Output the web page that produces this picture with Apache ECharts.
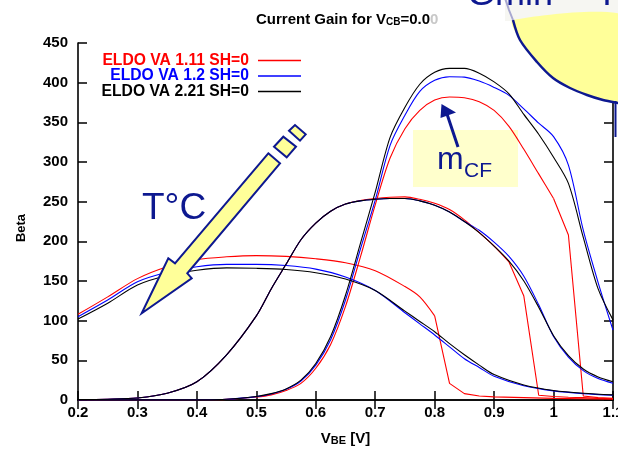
<!DOCTYPE html>
<html>
<head>
<meta charset="utf-8">
<script src="https://cdn.jsdelivr.net/npm/echarts@6/dist/echarts.min.js"></script>
<style>
  html, body { margin: 0; padding: 0; background: #ffffff; overflow: hidden; }
  #chart { width: 618px; height: 452px; }
</style>
</head>
<body>
<div id="chart"></div>
<script>
// Model names and their trace colours
const modelNames = ['ELDO VA 1.11 SH=0', 'ELDO VA 1.2 SH=0', 'ELDO VA 2.21 SH=0'];
const modelColors = ['#ff0000', '#0000ff', '#000000'];

// Curve set 1 (highest temperature): V_BE in volts and Beta per model
const vbeSet1 = [0.2, 0.25, 0.3, 0.35, 0.4, 0.45, 0.5, 0.55, 0.6, 0.65, 0.7, 0.75, 0.775, 0.8, 0.825, 0.85, 0.875, 0.9, 0.95, 1.0, 1.05, 1.1];
const betaSet1Va111 = [108, 130, 153, 168, 177, 180.5, 182, 181, 178, 173, 163, 143, 130, 106, 21, 8, 5, 4, 3, 2, 1.5, 1];
const betaSet1Va12 = [105, 126, 149, 161, 168, 171, 171, 169.5, 165, 155, 138, 110, 96, 82, 67, 52, 41, 30, 18, 11.5, 8, 6];
const betaSet1Va221 = [102, 122, 145, 157, 163.5, 166.5, 166, 164.5, 160.5, 152.5, 138, 112, 99, 86, 71, 57, 44, 32, 19, 12, 8.5, 6.5];

// Curve set 2 (middle temperature)
const vbeSet2 = [0.2, 0.25, 0.3, 0.35, 0.4, 0.45, 0.5, 0.525, 0.55, 0.575, 0.6, 0.625, 0.65, 0.675, 0.7, 0.725, 0.75, 0.775, 0.8, 0.825, 0.85, 0.875, 0.9, 0.925, 0.95, 0.975, 1.0, 1.025, 1.05, 1.075, 1.1];
const betaSet2Va111 = [0.5, 1, 2.5, 8.5, 23, 57, 106, 140, 171, 202, 223, 238, 247, 251.5, 254, 255.5, 256, 253, 248, 240, 227, 211, 194, 174, 131, 6, 4.5, 3.5, 3, 2, 1.5];
const betaSet2Va12 = [0.5, 1, 2.5, 8.5, 23, 57, 106, 140, 171, 202, 223, 238, 247, 251, 253, 254, 254, 251, 245.5, 237, 225, 214, 199, 181, 156, 120, 80, 54, 37, 27, 21];
const betaSet2Va221 = [0.5, 1, 2.5, 8.5, 23, 57, 106, 140, 171, 202, 223, 238, 247, 251, 253, 254, 254, 251, 245.5, 237, 225, 211, 194, 175, 150, 117, 81, 56, 39, 29, 23];

// Curve set 3 (lowest temperature)
const vbeSet3 = [0.2, 0.3, 0.4, 0.45, 0.5, 0.525, 0.55, 0.575, 0.6, 0.625, 0.65, 0.675, 0.7, 0.725, 0.75, 0.775, 0.8, 0.825, 0.85, 0.875, 0.9, 0.925, 0.95, 0.975, 1.0, 1.025, 1.05, 1.075, 1.1];
const betaSet3Va111 = [0, 0.1, 0.3, 0.8, 3.8, 6.5, 12, 21, 40, 70, 118, 180, 246, 305, 342, 365, 378, 382, 381, 376, 365, 345, 316, 285, 254, 208, 5, 3, 2];
const betaSet3Va12 = [0, 0.1, 0.3, 1, 4.3, 7.5, 13.5, 24, 44, 76, 126, 190, 252, 321, 359, 389, 403, 407.5, 407, 402, 394, 384, 367, 349, 332, 296, 214, 148, 88];
const betaSet3Va221 = [0, 0.1, 0.3, 1, 4.5, 8, 14, 25, 46, 80, 132, 197, 262, 331, 369, 398, 413, 418, 418, 412, 401, 386, 360, 335, 306, 273, 205, 140, 101];

// Index in each set where the VA 1.11 trace collapses (drawn with straight segments from there on)
const collapseIndex = [13, 23, 24];

// Axis ranges and steps
const vbeMin = 0.2, vbeMax = 1.1, vbeStep = 0.1;
const betaMin = 0, betaMax = 450, betaStep = 50;

const curveSets = [
  { vbe: vbeSet1, beta: [betaSet1Va111, betaSet1Va12, betaSet1Va221] },
  { vbe: vbeSet2, beta: [betaSet2Va111, betaSet2Va12, betaSet2Va221] },
  { vbe: vbeSet3, beta: [betaSet3Va111, betaSet3Va12, betaSet3Va221] }
];

const FONT = 'Liberation Sans';
const NAVY = '#0d1890';

function lineSeries(name, color, data, smooth, z) {
  return {
    type: 'line',
    name: name,
    xAxisIndex: 0,
    yAxisIndex: 0,
    data: data,
    showSymbol: false,
    symbol: 'none',
    smooth: smooth,
    silent: true,
    lineStyle: { color: color, width: 1.1 },
    itemStyle: { color: color },
    z: z
  };
}

const series = [];
curveSets.forEach(function (set, s) {
  set.beta.forEach(function (values, m) {
    const pts = set.vbe.map(function (v, i) { return [v, values[i]]; });
    if (m === 0) {
      const k = collapseIndex[s];
      series.push(lineSeries(modelNames[m], modelColors[m], pts.slice(0, k + 1), 0.3, 2));
      series.push(lineSeries(modelNames[m], modelColors[m], pts.slice(k), false, 2));
    } else {
      series.push(lineSeries(modelNames[m], modelColors[m], pts, 0.3, 2 + m));
    }
  });
});

const tickStyle = { inside: true, length: 9, lineStyle: { color: '#000', width: 1.5 } };
const lineStyleAxis = { lineStyle: { color: '#000', width: 1.6 } };
const labelStyle = { color: '#000', fontFamily: FONT, fontWeight: 'bold', fontSize: 15 };

const legends = modelNames.map(function (name, m) {
  return {
    data: [{ name: name, icon: 'rect', textStyle: { color: modelColors[m] } }],
    right: 317,
    top: 52.5 + m * 15.5,
    padding: 0,
    orient: 'horizontal',
    align: 'right',
    itemWidth: 43,
    itemHeight: 1.4,
    selectedMode: false,
    textStyle: { fontFamily: FONT, fontWeight: 'bold', fontSize: 15.7, padding: [0, 4, 0, 0] }
  };
});

const option = {
  backgroundColor: '#ffffff',
  animation: false,
  title: {
    text: '{a|Current Gain for V}{b|CB}{a|=0.0}{c|0}',
    left: 251,
    top: 5,
    textStyle: {
      rich: {
        a: { fontFamily: FONT, fontWeight: 'bold', fontSize: 15, color: '#000', verticalAlign: 'bottom', lineHeight: 17 },
        b: { fontFamily: FONT, fontWeight: 'bold', fontSize: 10, color: '#000', verticalAlign: 'bottom', lineHeight: 10 },
        c: { fontFamily: FONT, fontWeight: 'bold', fontSize: 15, color: '#c8c8c8', verticalAlign: 'bottom', lineHeight: 17 }
      }
    }
  },
  legend: legends,
  grid: { left: 78, right: 5, top: 43, bottom: 52, containLabel: false, outerBoundsMode: 'none' },
  xAxis: [
    {
      type: 'value', position: 'bottom', min: vbeMin, max: vbeMax, interval: vbeStep,
      axisLine: lineStyleAxis, axisTick: tickStyle, splitLine: { show: false },
      axisLabel: Object.assign({ margin: 5 }, labelStyle),
      name: '{a|V}{b|BE}{a| [V]}',
      nameLocation: 'middle',
      nameGap: 30,
      nameTextStyle: {
        rich: {
          a: { fontFamily: FONT, fontWeight: 'bold', fontSize: 15, color: '#000', verticalAlign: 'bottom', lineHeight: 16 },
          b: { fontFamily: FONT, fontWeight: 'bold', fontSize: 11, color: '#000', verticalAlign: 'bottom', lineHeight: 8 }
        }
      }
    },
    {
      type: 'value', position: 'top', min: vbeMin, max: vbeMax, interval: vbeStep,
      axisLine: lineStyleAxis, axisTick: tickStyle, splitLine: { show: false },
      axisLabel: { show: false }
    }
  ],
  yAxis: [
    {
      type: 'value', position: 'left', min: betaMin, max: betaMax, interval: betaStep,
      axisLine: lineStyleAxis, axisTick: tickStyle, splitLine: { show: false },
      axisLabel: Object.assign({ margin: 10 }, labelStyle)
    },
    {
      type: 'value', position: 'right', min: betaMin, max: betaMax, interval: betaStep,
      axisLine: lineStyleAxis, axisTick: tickStyle, splitLine: { show: false },
      axisLabel: { show: false }
    }
  ],
  series: series,
  graphic: [
    // y axis title
    { type: 'text', z: 100, silent: true, x: 21, y: 228, rotation: Math.PI / 2,
      style: { text: 'Beta', fill: '#000', font: 'bold 13px "Liberation Sans"', align: 'center', verticalAlign: 'middle' } },
    // pale box behind the m_CF annotation
    { type: 'rect', z: 0, silent: true, shape: { x: 413, y: 130, width: 105, height: 57 }, style: { fill: '#ffffcc' } },
    // m_CF annotation
    { type: 'text', z: 100, silent: true, style: { text: 'm', x: 437, y: 160, fill: NAVY, font: '32px "Liberation Sans"', verticalAlign: 'middle' } },
    { type: 'text', z: 100, silent: true, style: { text: 'CF', x: 464, y: 171, fill: NAVY, font: '21px "Liberation Sans"', verticalAlign: 'middle' } },
    { type: 'line', z: 100, silent: true, shape: { x1: 458, y1: 147, x2: 447, y2: 114 }, style: { stroke: NAVY, lineWidth: 3 } },
    { type: 'polygon', z: 100, silent: true, shape: { points: [[441.5, 104], [440.5, 118], [456, 112.5]] }, style: { fill: NAVY } },
    // temperature arrow
    { type: 'polygon', z: 100, silent: true,
      shape: { points: [[268.3, 153.3], [280, 163.3], [187.3, 273.3], [191.7, 278.3], [141.7, 313.3], [168.3, 258.3], [175, 263.3]] },
      style: { fill: '#ffff99', stroke: NAVY, lineWidth: 2, lineJoin: 'miter' } },
    { type: 'polygon', z: 100, silent: true,
      shape: { points: [[274, 146.7], [283.3, 136.7], [296, 146.7], [286.7, 157.3]] },
      style: { fill: '#ffff99', stroke: NAVY, lineWidth: 2 } },
    { type: 'polygon', z: 100, silent: true,
      shape: { points: [[289, 130.7], [295, 125], [305.7, 134.3], [300, 140.7]] },
      style: { fill: '#ffff99', stroke: NAVY, lineWidth: 2 } },
    { type: 'text', z: 100, silent: true, style: { text: 'T°C', x: 142, y: 209, fill: NAVY, font: '37px "Liberation Sans"', verticalAlign: 'middle' } },
    // overlapping slide bubble at the top right
    { type: 'rect', z: 99, silent: true, shape: { x: 505, y: 0, width: 113, height: 21 }, style: { fill: '#f6f6f2' } },
    { type: 'polygon', z: 100, silent: true,
      shape: { points: [[513, 20], [520, 40], [537, 62], [553, 78], [570, 88], [587, 95], [603, 100], [618, 103], [640, 106], [640, 20]], smooth: 0.3 },
      style: { fill: '#ffff99' } },
    { type: 'polyline', z: 101, silent: true,
      shape: { points: [[513, 20], [520, 40], [537, 62], [553, 78], [570, 88], [587, 95], [603, 100], [618, 103], [630, 105]], smooth: 0.3 },
      style: { stroke: NAVY, lineWidth: 2.5, fill: null } },
    { type: 'polyline', z: 101, silent: true,
      shape: { points: [[505, -2], [509, 10], [513, 20]] },
      style: { stroke: '#a8a8d0', lineWidth: 2, fill: null } },
    { type: 'line', z: 101, silent: true, shape: { x1: 615.5, y1: 101, x2: 615.5, y2: 137 }, style: { stroke: NAVY, lineWidth: 2 } },
    { type: 'text', z: 102, silent: true, style: { text: 'Gmin', x: 467, y: 13, fill: NAVY, font: '36px "Liberation Sans"', verticalAlign: 'bottom' } },
    { type: 'text', z: 102, silent: true, style: { text: 'T', x: 596, y: 13, fill: NAVY, font: '36px "Liberation Sans"', verticalAlign: 'bottom' } }
  ]
};

const chart = echarts.init(document.getElementById('chart'), null, { renderer: 'canvas' });
chart.setOption(option);
</script>
</body>
</html>
